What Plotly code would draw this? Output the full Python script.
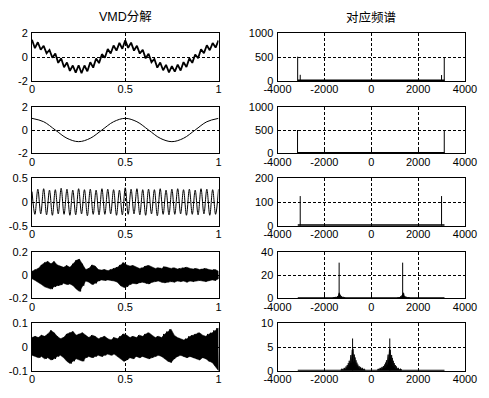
import numpy as np
import plotly.graph_objects as go

# ---------------- data ----------------
left_title = "VMD分解"
right_title = "对应频谱"

# panel 1: original signal, values at the zig-zag extrema (t from 0 to 1)
signal_vals = [1.45, 0.75, 1.25, 0.62, 0.95, 0.32, 0.60, -0.05, 0.30, -0.48,
               -0.10, -0.85, -0.45, -1.15, -0.70, -1.30, -0.68, -1.35, -0.70, -1.18,
               -0.42, -0.88, -0.12, -0.50, 0.25, -0.05, 0.68, 0.30, 0.98, 0.55,
               1.20, 0.70, 1.42, 0.78, 1.22, 0.55, 0.95, 0.30, 0.62, -0.10,
               0.28, -0.42, -0.15, -0.88, -0.45, -1.10, -0.65, -1.28, -0.75, -1.22,
               -0.62, -1.12, -0.42, -0.82, -0.10, -0.48, 0.22, -0.08, 0.66, 0.34,
               1.00, 0.58, 1.18, 0.80, 1.40]

# panel 2: IMF2 (slow cosine), sampled values
imf2_vals = [1.0, 0.71, 0.0, -0.71, -1.0, -0.71, 0.0, 0.71, 1.0,
             0.71, 0.0, -0.71, -1.0, -0.71, 0.0, 0.71, 1.0]

# panel 3: IMF3, values at its extrema
imf3_vals = [0.22, -0.26, 0.27, -0.25, 0.28, -0.27, 0.25, -0.28, 0.26, -0.25,
             0.29, -0.26, 0.27, -0.28, 0.25, -0.27, 0.28, -0.25, 0.26, -0.29,
             0.27, -0.26, 0.25, -0.27, 0.28, -0.26, 0.27, -0.25, 0.26, -0.28,
             0.25, -0.27, 0.30, -0.26, 0.27, -0.25, 0.28, -0.27, 0.26, -0.28,
             0.27, -0.25, 0.26, -0.29, 0.28, -0.26, 0.25, -0.27, 0.27, -0.26,
             0.28, -0.25, 0.26, -0.28, 0.27, -0.26, 0.25, -0.27, 0.28, -0.25,
             0.27, -0.28, 0.26, -0.26, 0.27]

# panel 4: IMF4 noisy band, upper / lower peaks
imf4_upper = [.035, .05, .06, .09, .11, .12, .10, .12, .09, .08,
              .07, .085, .07, .10, .13, .14, .10, .05, .06, .09,
              .08, .05, .045, .05, .04, .05, .06, .07, .09, .11,
              .09, .08, .085, .07, .06, .065, .08, .085, .07, .06,
              .065, .06, .075, .07, .06, .065, .055, .06, .065, .07,
              .06, .055, .06, .05, .055, .06, .05, .045, .05, .035]
imf4_lower = [-.03, -.045, -.06, -.08, -.10, -.11, -.12, -.10, -.09, -.085,
              -.07, -.08, -.075, -.09, -.12, -.14, -.09, -.05, -.06, -.08,
              -.07, -.05, -.04, -.045, -.04, -.045, -.05, -.06, -.09, -.105,
              -.10, -.08, -.07, -.075, -.065, -.06, -.07, -.075, -.06, -.055,
              -.05, -.06, -.065, -.06, -.055, -.06, -.05, -.055, -.05, -.06,
              -.05, -.055, -.05, -.045, -.05, -.055, -.045, -.04, -.045, -.03]

# panel 5: IMF5 noisy band, upper / lower peaks
imf5_upper = [.04, .045, .04, .05, .045, .055, .07, .06, .045, .035,
              .04, .055, .06, .065, .05, .055, .06, .05, .04, .05,
              .045, .035, .04, .045, .035, .03, .04, .035, .045, .055,
              .05, .04, .045, .04, .05, .045, .055, .06, .05, .04,
              .045, .04, .055, .065, .075, .05, .04, .035, .03, .035,
              .045, .05, .055, .06, .05, .045, .055, .06, .07, .08]
imf5_lower = [-.035, -.04, -.045, -.04, -.05, -.045, -.055, -.05, -.04, -.035,
              -.045, -.06, -.07, -.06, -.05, -.055, -.06, -.045, -.04, -.045,
              -.04, -.035, -.04, -.035, -.03, -.035, -.03, -.04, -.05, -.06,
              -.055, -.045, -.05, -.04, -.045, -.04, -.045, -.05, -.045, -.04,
              -.035, -.04, -.05, -.06, -.065, -.05, -.04, -.035, -.04, -.045,
              -.04, -.045, -.05, -.055, -.045, -.05, -.06, -.065, -.08, -.10]

# spectra: baseline span, baseline level, spikes (freq, height)
spec_base = [(-3135, 3125, 8), (-3135, 3125, 8), (-3135, 3125, 1.5),
             (-3135, 3125, 0.3), (-3135, 3125, 0.08)]
spec_spikes = [
    [(-3140, 510), (-3030, 130), (3000, 125), (3115, 500)],
    [(-3145, 500), (3115, 500)],
    [(-3030, 125), (3000, 125)],
    [(-1370, 31), (1340, 31)],
    [(-796, 6.8), (790, 6.8)],
]
# noisy humps around the spikes (left side; right side is its mirror)
hump4_f = [-1650, -1600, -1550, -1500, -1470, -1440, -1420, -1400, -1390, -1380,
           -1365, -1355, -1345, -1330, -1310, -1290, -1260, -1230, -1200, -1150, -1100]
hump4_m = [0.3, 0.6, 0.4, 1.0, 0.6, 1.8, 1.0, 3.0, 1.5, 4.6,
           4.8, 1.5, 3.8, 1.2, 2.6, 0.9, 1.8, 0.6, 1.0, 0.4, 0.2]
hump5_f = [-1300, -1250, -1200, -1150, -1100, -1075, -1050, -1025, -1000, -980,
           -960, -940, -920, -900, -885, -870, -855, -840, -825, -810,
           -800, -790, -780, -765, -750, -735, -720, -705, -690, -670,
           -650, -630, -610, -590, -570, -550, -520, -490, -460, -420,
           -380, -340, -300, -260]
hump5_m = [0.2, 0.4, 0.2, 0.6, 0.3, 0.9, 0.4, 1.2, 0.5, 1.6,
           0.7, 2.1, 0.9, 2.7, 1.2, 3.3, 1.5, 3.9, 2.0, 4.4,
           2.5, 2.8, 4.6, 2.0, 4.0, 1.6, 3.4, 1.3, 2.8, 1.0,
           2.2, 0.8, 1.7, 0.6, 1.3, 0.5, 1.0, 0.4, 0.8, 0.3,
           0.6, 0.2, 0.4, 0.1]
spec_humps = [None, None, None, (hump4_f, hump4_m), (hump5_f, hump5_m)]

# axes ranges and ticks
left_yrange = [[-2, 2], [-2, 2], [-0.5, 0.5], [-0.2, 0.2], [-0.1, 0.1]]
left_yticks = [[-2, 0, 2], [-2, 0, 2], [-0.5, 0, 0.5], [-0.2, 0, 0.2], [-0.1, 0, 0.1]]
left_ytext = [["-2", "0", "2"], ["-2", "0", "2"], ["-0.5", "0", "0.5"],
              ["-0.2", "0", "0.2"], ["-0.1", "0", "0.1"]]
left_xticks = [0, 0.5, 1]
left_xtext = ["0", "0.5", "1"]
right_yrange = [[0, 1000], [0, 1000], [0, 200], [0, 40], [0, 10]]
right_yticks = [[0, 500, 1000], [0, 500, 1000], [0, 100, 200], [0, 20, 40], [0, 5, 10]]
right_xticks = [-4000, -2000, 0, 2000, 4000]
right_xtext = ["-4000", "-2000", "0", "2000", "4000"]

# ---------------- layout geometry (pixels in the window) ----------------
WIN_W, WIN_H = 489, 398
PAD = 8  # default page body margin
W, H = WIN_W - PAD, WIN_H - PAD
rows_px = [(33.3, 81.0), (106.7, 153.3), (178.3, 225.7), (252.3, 298.3), (323.3, 370.7)]
cols_px = [(32.0, 218.5), (277.5, 465.0)]


def fx(px):
    return (px - PAD) / W


def fy(px):
    return 1 - (px - PAD) / H


FONT = "Liberation Sans, Arial, Noto Sans CJK SC"
TICK_SIZE = 11
fig = go.Figure()


def ax_names(n):
    return ("x" if n == 1 else f"x{n}"), ("y" if n == 1 else f"y{n}")


def line(x, y, n, width=1.0, shape="linear", fill=None):
    xa, ya = ax_names(n)
    fig.add_trace(go.Scatter(x=x, y=y, mode="lines", xaxis=xa, yaxis=ya,
                             line=dict(color="black", width=width, shape=shape),
                             fill=fill, fillcolor="black",
                             showlegend=False, hoverinfo="skip"))


# left column
line(np.linspace(0, 1, len(signal_vals)), signal_vals, 1, width=1.8)
line(np.linspace(0, 1, len(imf2_vals)), imf2_vals, 3, width=1.0, shape="spline")
line(np.linspace(0, 1, len(imf3_vals)), imf3_vals, 5, width=1.0, shape="spline")
for n, up, lo in [(7, imf4_upper, imf4_lower), (9, imf5_upper, imf5_lower)]:
    tt = np.linspace(0, 1, len(up))
    # solid core of the band
    line(list(tt) + list(tt[::-1]), list(up) + list(lo[::-1]), n, width=0.5, fill="toself")
    yy = []
    for u, l in zip(up, lo):
        yy += [u, l]
    line(np.linspace(0, 1, len(yy)), yy, n, width=1.0)

# right column
for r in range(5):
    n = 2 * r + 2
    lo_f, hi_f, lev = spec_base[r]
    line([lo_f, hi_f], [lev, lev], n, width=2.0 if r < 3 else 1.2)
    xs, ys = [], []
    for f, h in spec_spikes[r]:
        xs += [f, f, None]
        ys += [0, h, None]
    line(xs, ys, n, width=1.0)
    if spec_humps[r] is not None:
        hf, hm = spec_humps[r]
        line(hf, hm, n, width=0.8, fill="tozeroy")
        line([-f for f in hf[::-1]], hm[::-1], n, width=0.8, fill="tozeroy")

# axes
layout = dict(width=W, height=H, margin=dict(l=0, r=0, t=0, b=0),
              paper_bgcolor="white", plot_bgcolor="white",
              font=dict(family=FONT, size=TICK_SIZE, color="black"), showlegend=False)
common = dict(showline=True, mirror=True, linecolor="black", linewidth=1,
              ticks="inside", ticklen=3, tickcolor="black", tickwidth=1,
              showgrid=True, gridcolor="black", gridwidth=1, griddash="3px,2px",
              zeroline=False, automargin=False, fixedrange=True,
              tickfont=dict(family=FONT, size=TICK_SIZE, color="black"))
for r in range(5):
    t_px, b_px = rows_px[r]
    ydom = [fy(b_px), fy(t_px)]
    for c in range(2):
        n = 2 * r + c + 1
        xa, ya = ax_names(n)
        xkey = "xaxis" if n == 1 else f"xaxis{n}"
        ykey = "yaxis" if n == 1 else f"yaxis{n}"
        xdom = [fx(cols_px[c][0]), fx(cols_px[c][1])]
        if c == 0:
            xr, xt, xtt = [0, 1], left_xticks, left_xtext
            yr, yt, ytt = left_yrange[r], left_yticks[r], left_ytext[r]
        else:
            xr, xt, xtt = [-4000, 4000], right_xticks, right_xtext
            yr, yt = right_yrange[r], right_yticks[r]
            ytt = [str(v) for v in yt]
        layout[xkey] = dict(common, domain=xdom, range=xr, anchor=ya,
                            tickmode="array", tickvals=xt, ticktext=xtt,
                            ticklabelstandoff=-2)
        layout[ykey] = dict(common, domain=ydom, range=yr, anchor=xa,
                            tickmode="array", tickvals=yt, ticktext=ytt,
                            ticklabelstandoff=1)

layout["annotations"] = [
    dict(text=left_title, x=fx((cols_px[0][0] + cols_px[0][1]) / 2), y=fy(17),
         xref="paper", yref="paper", showarrow=False, xanchor="center", yanchor="middle",
         font=dict(family=FONT, size=12.5, color="black")),
    dict(text=right_title, x=fx((cols_px[1][0] + cols_px[1][1]) / 2), y=fy(17),
         xref="paper", yref="paper", showarrow=False, xanchor="center", yanchor="middle",
         font=dict(family=FONT, size=12.5, color="black")),
]
fig.update_layout(**layout)
fig.write_html("out.html")
